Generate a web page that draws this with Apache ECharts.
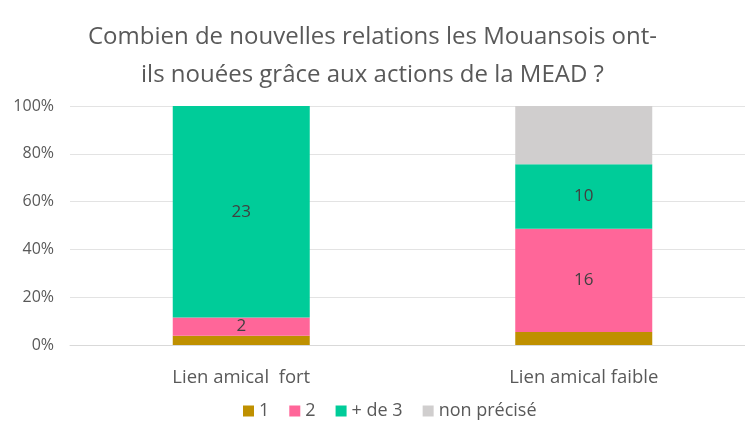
<!DOCTYPE html>
<html>
<head>
<meta charset="utf-8">
<script src="https://cdn.jsdelivr.net/npm/echarts@6/dist/echarts.min.js"></script>
<style>
  html, body { margin: 0; padding: 0; background: #fff; }
  #chart { width: 745px; height: 433px; }
</style>
</head>
<body>
<div id="chart"></div>
<script>
// Number of new relations by friendship type, shown as 100 % stacked bars
const categories = ['Lien amical  fort', 'Lien amical faible'];
const seriesNames = ['1', '2', '+ de 3', 'non précisé'];
const counts1 = [1, 2];
const counts2 = [2, 16];
const countsPlus3 = [23, 10];
const countsUnknown = [0, 9];
const yTickLabels = ['0%', '20%', '40%', '60%', '80%', '100%'];

const colors = ['#BF9000', '#FF6699', '#00CC99', '#D0CECE'];
const allCounts = [counts1, counts2, countsPlus3, countsUnknown];
const showLabel = [false, true, true, false];

const totals = categories.map((_, i) => allCounts.reduce((s, arr) => s + arr[i], 0));

const chart = echarts.init(document.getElementById('chart'), null, { renderer: 'canvas' });
const fontFamily = '"Open Sans", "Liberation Sans", sans-serif';

chart.setOption({
  animation: false,
  title: {
    text: 'Combien de nouvelles relations les Mouansois ont-\nils nouées grâce aux actions de la MEAD ?',
    left: 'center',
    top: 13,
    textStyle: {
      color: '#595959',
      fontSize: 24,
      fontWeight: 'normal',
      fontFamily: fontFamily,
      lineHeight: 38
    }
  },
  legend: {
    bottom: 8,
    left: 238,
    itemWidth: 11,
    itemHeight: 11,
    itemGap: 20,
    icon: 'rect',
    textStyle: { color: '#595959', fontSize: 18, fontFamily: fontFamily },
    data: seriesNames
  },
  grid: { left: 70, top: 106, bottom: 88, right: -10, outerBoundsMode: 'none' },
  xAxis: {
    type: 'category',
    data: categories,
    axisLine: { lineStyle: { color: '#D9D9D9', width: 1 } },
    axisTick: { show: false },
    axisLabel: { color: '#595959', fontSize: 18.5, fontFamily: fontFamily, margin: 23 }
  },
  yAxis: {
    type: 'value',
    min: 0,
    max: 100,
    interval: 20,
    axisLine: { show: false },
    axisTick: { show: false },
    splitLine: { lineStyle: { color: '#E3E3E3', width: 1 } },
    axisLabel: {
      color: '#595959',
      fontSize: 16,
      fontFamily: fontFamily,
      margin: 16,
      formatter: (v) => yTickLabels[Math.round(v / 20)]
    }
  },
  series: seriesNames.map((name, s) => ({
    name: name,
    type: 'bar',
    stack: 'total',
    barWidth: '40%',
    itemStyle: { color: colors[s] },
    label: {
      show: showLabel[s],
      position: 'inside',
      color: '#404040',
      fontSize: 17,
      fontFamily: fontFamily,
      formatter: (p) => allCounts[s][p.dataIndex]
    },
    data: allCounts[s].map((c, i) => c / totals[i] * 100)
  }))
});
</script>
</body>
</html>
